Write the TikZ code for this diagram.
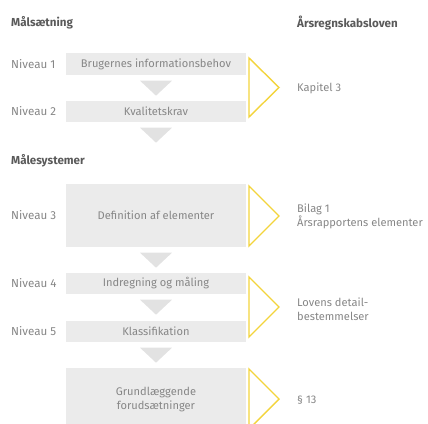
\documentclass[tikz,border=0pt]{standalone}
\usepackage{fontspec}
\setmainfont{Fira Sans}
\usepackage{xcolor}
\definecolor{boxgray}{HTML}{EBEBEB}
\definecolor{tipgray}{HTML}{E2E2E2}
\definecolor{txtgray}{HTML}{868686}
\definecolor{headgray}{HTML}{5A5A5A}
\definecolor{lawyellow}{HTML}{F3D43C}

\tikzset{
  levelbox/.style={fill=boxgray, text=txtgray, minimum width=180pt, align=center, inner sep=0pt, font=\fontsize{11.1}{14}\selectfont},
  levellabel/.style={anchor=west, text=txtgray, inner sep=0pt, font=\fontsize{11.6}{13}\selectfont},
  lawlabel/.style={anchor=west, text=txtgray, inner sep=0pt, align=left, font=\fontsize{11.1}{13.5}\selectfont},
  heading/.style={anchor=west, text=headgray, inner sep=0pt, font=\bfseries\fontsize{11.6}{13}\selectfont},
  lawtri/.style={draw=lawyellow, line width=1.4pt, line join=miter},
  downtip/.style={fill=tipgray}
}

\begin{document}
\begin{tikzpicture}[x=1pt, y=-1pt]
  \useasboundingbox (0,0) rectangle (428,423);
  \clip (0,0) rectangle (428,423);

  % headings
  \node[heading] (malsaet) at (11,23) {Målsætning};
  \node[heading] (arl) at (297,23) {Årsregnskabsloven};
  \node[heading] (malesys) at (11,161) {Målesystemer};

  % level boxes
  \node[levelbox, minimum height=22pt] (brug) at (156,64) {Brugernes informationsbehov};
  \node[levelbox, minimum height=21pt] (kval) at (156,111.5) {Kvalitetskrav};
  \node[levelbox, minimum height=63pt] (def) at (156,215.5) {Definition af elementer};
  \node[levelbox, minimum height=21pt] (indr) at (156,283.5) {Indregning og måling};
  \node[levelbox, minimum height=21pt] (klass) at (156,331.5) {Klassifikation};
  \node[levelbox, minimum height=64pt] (grund) at (156,400) {Grundlæggende\\forudsætninger};

  % level names
  \node[levellabel] (niv1) at (11,64) {Niveau 1};
  \node[levellabel] (niv2) at (11,111.5) {Niveau 2};
  \node[levellabel] (niv3) at (11,215.5) {Niveau 3};
  \node[levellabel] (niv4) at (11,283.5) {Niveau 4};
  \node[levellabel] (niv5) at (11,331.5) {Niveau 5};

  % grey tips below the boxes
  \foreach \b in {brug,kval,def,indr,klass} {
    \fill[downtip] ([xshift=-16pt,yshift=-5.5pt]\b.south) -- ([xshift=16pt,yshift=-5.5pt]\b.south)
      -- ([yshift=-20.5pt]\b.south) -- cycle;
  }

  % yellow triangles
  \draw[lawtri] (249,58) -- (279,87.5) -- (249,117) -- cycle;
  \draw[lawtri] (249,186) -- (279,216) -- (249,246) -- cycle;
  \draw[lawtri] (249,277) -- (279,307) -- (249,337) -- cycle;
  \draw[lawtri] (249,369) -- (279,399) -- (249,429) -- cycle;

  % law references
  \node[lawlabel] (kap3) at (297,88.5) {Kapitel 3};
  \node[lawlabel] (bilag) at (297,216.5) {Bilag 1\\Årsrapportens elementer};
  \node[lawlabel] (lovens) at (297,309) {Lovens detail-\\bestemmelser};
  \node[lawlabel] (par13) at (297,400) {§ 13};
\end{tikzpicture}
\end{document}
